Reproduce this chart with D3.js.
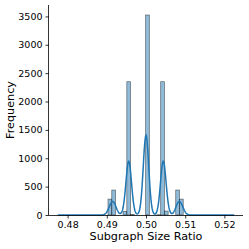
<!DOCTYPE html>
<html>
<head>
<meta charset="utf-8">
<script src="https://cdn.jsdelivr.net/npm/d3@7"></script>
<style>
  body { margin: 0; background: #fff; }
  text { font-family: "DejaVu Sans", sans-serif; }
</style>
</head>
<body>
<div id="chart"></div>
<script>
// subgraph size ratios and how often each one occurs
var ratios = [0.4909, 0.4918, 0.4946, 0.4956, 0.4965, 0.5000, 0.5036, 0.5044, 0.5054, 0.5082, 0.5091];
var counts = [280, 440, 65, 2350, 10, 3525, 5, 2350, 70, 440, 280];

var binWidth = 0.00096, binOrigin = 0.4999;
var kdeBandwidth = 0.0007, kdeArea = 0.0007;
var kdeExtent = [0.4775, 0.5225];

var xTicks = [0.48, 0.49, 0.50, 0.51, 0.52];
var yTicks = [0, 500, 1000, 1500, 2000, 2500, 3000, 3500];

var margin = { top: 5, right: 6, bottom: 34, left: 49 },
    width = 249 - margin.left - margin.right,
    height = 249 - margin.top - margin.bottom;

var svg = d3.select("#chart")
    .append("svg")
    .attr("width", 249)
    .attr("height", 249)
    .append("g")
    .attr("transform", "translate(" + margin.left + "," + margin.top + ")");

// histogram bins on a fixed grid
var bins = d3.rollups(ratios.map(function (r, i) { return { r: r, c: counts[i] }; }),
    function (v) { return d3.sum(v, function (d) { return d.c; }); },
    function (d) { return Math.floor((d.r - binOrigin) / binWidth); })
    .map(function (b) {
        return { x0: binOrigin + b[0] * binWidth, x1: binOrigin + (b[0] + 1) * binWidth, count: b[1] };
    });

var pad = (kdeExtent[1] - kdeExtent[0]) * 0.05;
var x = d3.scaleLinear().domain([kdeExtent[0] - pad, kdeExtent[1] + pad]).range([0, width]);
var y = d3.scaleLinear().domain([0, d3.max(counts) * 1.05]).range([height, 0]);

svg.selectAll(".bar")
    .data(bins)
    .enter()
    .append("rect")
    .attr("class", "bar")
    .attr("x", function (d) { return x(d.x0); })
    .attr("y", function (d) { return y(d.count); })
    .attr("width", function (d) { return x(d.x1) - x(d.x0); })
    .attr("height", function (d) { return height - y(d.count); })
    .style("fill", "#1f77b4")
    .style("fill-opacity", 0.5)
    .style("stroke", "#000")
    .style("stroke-opacity", 0.5)
    .style("stroke-width", 0.75);

// gaussian kde, scaled to the histogram
function kde(v) {
    var s = 0;
    ratios.forEach(function (r, i) {
        var z = (v - r) / kdeBandwidth;
        s += counts[i] * Math.exp(-0.5 * z * z);
    });
    return s * kdeArea / (kdeBandwidth * Math.sqrt(2 * Math.PI));
}
var grid = d3.range(0, 401).map(function (i) {
    return kdeExtent[0] + (kdeExtent[1] - kdeExtent[0]) * i / 400;
});

svg.append("path")
    .datum(grid)
    .attr("d", d3.line().x(function (d) { return x(d); }).y(function (d) { return y(kde(d)); }))
    .style("fill", "none")
    .style("stroke", "#1f77b4")
    .style("stroke-width", 1.5);

var xAxis = svg.append("g")
    .attr("transform", "translate(0," + height + ")")
    .call(d3.axisBottom(x).tickValues(xTicks).tickFormat(d3.format(".2f")).tickSize(3.5).tickPadding(3));
var yAxis = svg.append("g")
    .call(d3.axisLeft(y).tickValues(yTicks).tickFormat(d3.format("d")).tickSize(3.5).tickPadding(3));

[xAxis, yAxis].forEach(function (a) {
    a.selectAll("text").style("font-size", "9.5px").style("fill", "#000");
    a.selectAll("line").style("stroke", "#000").style("stroke-width", 0.8);
    a.select(".domain").style("stroke", "#000").style("stroke-width", 0.8);
});
xAxis.select(".domain").attr("d", "M0,0.5H" + width);
yAxis.select(".domain").attr("d", "M-0.5," + height + "V0");

svg.append("text")
    .attr("x", width / 2)
    .attr("y", height + 25)
    .attr("text-anchor", "middle")
    .style("font-size", "11.2px")
    .text("Subgraph Size Ratio");

svg.append("text")
    .attr("transform", "translate(-35," + (height / 2) + ") rotate(-90)")
    .attr("text-anchor", "middle")
    .style("font-size", "11.2px")
    .text("Frequency");
</script>
</body>
</html>
